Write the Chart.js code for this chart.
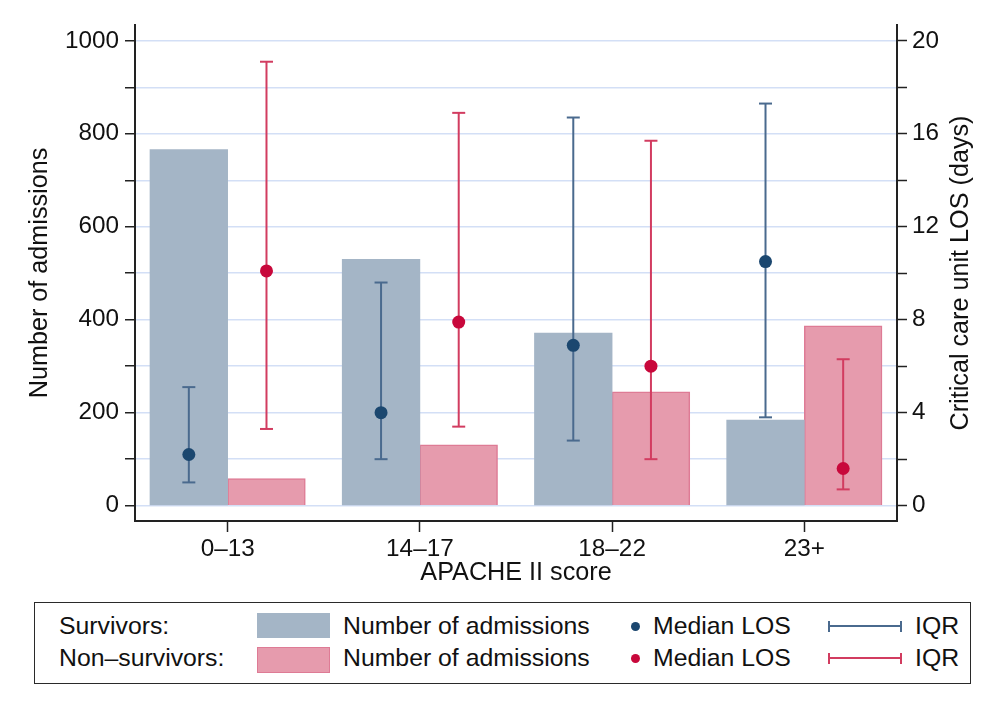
<!DOCTYPE html>
<html>
<head>
<meta charset="utf-8">
<script src="https://cdn.jsdelivr.net/npm/chart.js@4/dist/chart.umd.min.js"></script>
<style>
  html, body { margin: 0; padding: 0; background: #fff; }
  body { width: 1004px; height: 717px; position: relative; overflow: hidden;
         font-family: "Liberation Sans", Arial, Helvetica, sans-serif; color: #111; }
  #wrap { position: absolute; left: 0; top: 0; width: 1004px; height: 600px; }
  .lg-box { position: absolute; left: 34px; top: 602px; width: 935px; height: 80px;
            border: 1.5px solid #2a2a2a; box-sizing: content-box; }
  .lg-t { position: absolute; font-size: 24.8px; line-height: 30px; white-space: nowrap; color: #111; }
  .sw { position: absolute; box-sizing: border-box; }
  .dot { position: absolute; border-radius: 50%; }
  .iqr { position: absolute; height: 2px; }
  .cap { position: absolute; width: 2px; height: 11px; }
</style>
</head>
<body>
<div id="wrap"><canvas id="c" width="1004" height="600"></canvas></div>

<div class="lg-box"></div>
<div class="lg-t" style="left:59px; top:611px;">Survivors:</div>
<div class="lg-t" style="left:59px; top:643px;">Non–survivors:</div>
<div class="sw" style="left:257px; top:613px; width:73px; height:25px; background:#a4b5c6;"></div>
<div class="sw" style="left:257px; top:647px; width:73px; height:26px; background:#e69bad; border:1.5px solid #de7b95;"></div>
<div class="lg-t" style="left:343px; top:611px;">Number of admissions</div>
<div class="lg-t" style="left:343px; top:643px;">Number of admissions</div>
<div class="dot" style="left:630.5px; top:621.5px; width:9px; height:9px; background:#1b476f;"></div>
<div class="dot" style="left:630.5px; top:653.5px; width:9px; height:9px; background:#c8083b;"></div>
<div class="lg-t" style="left:653px; top:611px;">Median LOS</div>
<div class="lg-t" style="left:653px; top:643px;">Median LOS</div>
<div class="iqr" style="left:828px; top:625px; width:74px; background:#4a6a8e;"></div>
<div class="cap" style="left:828px; top:620.5px; background:#4a6a8e;"></div>
<div class="cap" style="left:900px; top:620.5px; background:#4a6a8e;"></div>
<div class="iqr" style="left:828px; top:657px; width:74px; background:#d23c60;"></div>
<div class="cap" style="left:828px; top:652.5px; background:#d23c60;"></div>
<div class="cap" style="left:900px; top:652.5px; background:#d23c60;"></div>
<div class="lg-t" style="left:915px; top:611px;">IQR</div>
<div class="lg-t" style="left:915px; top:643px;">IQR</div>

<script>
// ---- data ----
const categories = ['0–13', '14–17', '18–22', '23+'];
const survAdmissions = [766, 530, 371, 184];
const nonSurvAdmissions = [58, 131, 245, 387];
const survMedianLOS = [2.2, 4.0, 6.9, 10.5];
const survIqrLow = [1.0, 2.0, 2.8, 3.8];
const survIqrHigh = [5.1, 9.6, 16.7, 17.3];
const nonSurvMedianLOS = [10.1, 7.9, 6.0, 1.6];
const nonSurvIqrLow = [3.3, 3.4, 2.0, 0.7];
const nonSurvIqrHigh = [19.1, 16.9, 15.7, 6.3];
const leftTickValues = [0, 100, 200, 300, 400, 500, 600, 700, 800, 900, 1000];
const leftTickLabels = ['0', '', '200', '', '400', '', '600', '', '800', '', '1000'];
const rightTickValues = [0, 2, 4, 6, 8, 10, 12, 14, 16, 18, 20];
const rightTickLabels = ['0', '', '4', '', '8', '', '12', '', '16', '', '20'];

// ---- layout / style ----
const GROUP_SHIFT = 0.202;
const FONT = { family: '"Liberation Sans", Arial, Helvetica, sans-serif', size: 24.3 };
const TFONT = { family: '"Liberation Sans", Arial, Helvetica, sans-serif', size: 25.2 };
const AXIS = '#222';
const GRID = '#d3dff6';

function pointsAt(values, dx) {
  return values.map((v, i) => ({ x: i + dx, y: v }));
}
function iqrSegments(lo, hi, dx) {
  const pts = [];
  lo.forEach((v, i) => {
    pts.push({ x: i + dx, y: lo[i] }, { x: i + dx, y: hi[i] }, { x: i + dx, y: null });
  });
  return pts;
}

const rightTitle = {
  id: 'rightTitle',
  afterDraw(chart) {
    const { ctx, chartArea } = chart;
    ctx.save();
    ctx.translate(961, (chartArea.top + chartArea.bottom) / 2);
    ctx.rotate(-Math.PI / 2);
    ctx.font = `${TFONT.size}px ${TFONT.family}`;
    ctx.fillStyle = '#111';
    ctx.textAlign = 'center';
    ctx.textBaseline = 'middle';
    ctx.fillText('Critical care unit LOS (days)', 0, 0);
    ctx.restore();
  }
};

new Chart(document.getElementById('c'), {
  type: 'bar',
  data: {
    datasets: [
      {
        label: 'Survivors: Number of admissions',
        data: pointsAt(survAdmissions, -GROUP_SHIFT),
        backgroundColor: '#a4b5c6',
        borderWidth: 0,
        grouped: false, barPercentage: 1, categoryPercentage: 1,
        xAxisID: 'x', yAxisID: 'y', order: 3
      },
      {
        label: 'Non-survivors: Number of admissions',
        data: pointsAt(nonSurvAdmissions, GROUP_SHIFT),
        backgroundColor: '#e69bad',
        borderColor: '#de7b95',
        borderWidth: 1.5,
        grouped: false, barPercentage: 1, categoryPercentage: 1,
        xAxisID: 'x', yAxisID: 'y', order: 3
      },
      {
        type: 'line',
        label: 'Survivors: IQR',
        data: iqrSegments(survIqrLow, survIqrHigh, -GROUP_SHIFT),
        borderColor: '#4a6a8e', borderWidth: 2,
        pointStyle: 'line', pointRadius: 6.5, pointBorderWidth: 2,
        pointBorderColor: '#4a6a8e', pointBackgroundColor: '#4a6a8e',
        spanGaps: false, fill: false, tension: 0,
        xAxisID: 'x', yAxisID: 'y2', order: 2
      },
      {
        type: 'line',
        label: 'Non-survivors: IQR',
        data: iqrSegments(nonSurvIqrLow, nonSurvIqrHigh, GROUP_SHIFT),
        borderColor: '#d23c60', borderWidth: 2,
        pointStyle: 'line', pointRadius: 6.5, pointBorderWidth: 2,
        pointBorderColor: '#d23c60', pointBackgroundColor: '#d23c60',
        spanGaps: false, fill: false, tension: 0,
        xAxisID: 'x', yAxisID: 'y2', order: 2
      },
      {
        type: 'line',
        label: 'Survivors: Median LOS',
        data: pointsAt(survMedianLOS, -GROUP_SHIFT),
        showLine: false,
        pointRadius: 6.5, pointBorderWidth: 0,
        pointBackgroundColor: '#1b476f',
        xAxisID: 'x', yAxisID: 'y2', order: 1
      },
      {
        type: 'line',
        label: 'Non-survivors: Median LOS',
        data: pointsAt(nonSurvMedianLOS, GROUP_SHIFT),
        showLine: false,
        pointRadius: 6.5, pointBorderWidth: 0,
        pointBackgroundColor: '#c8083b',
        xAxisID: 'x', yAxisID: 'y2', order: 1
      }
    ]
  },
  options: {
    responsive: false,
    animation: false,
    events: [],
    layout: { padding: { top: 25, left: 0, right: 0, bottom: 0 } },
    plugins: { legend: { display: false }, tooltip: { enabled: false } },
    scales: {
      x: {
        type: 'linear',
        min: -0.482, max: 3.482,
        offset: false,
        afterBuildTicks(s) { s.ticks = categories.map((c, i) => ({ value: i })); },
        grid: { drawOnChartArea: false, drawTicks: true, offset: false,
                tickLength: 11, tickColor: AXIS, tickWidth: 1.5 },
        border: { color: AXIS, width: 2 },
        ticks: { font: FONT, color: '#111', padding: 3, maxRotation: 0,
                 callback: (v) => categories[v] },
        title: { display: true, text: 'APACHE II score', font: TFONT, color: '#111',
                 padding: { top: 0, bottom: 12 } },
        afterFit(s) { s.height = 79; }
      },
      y: {
        type: 'linear', position: 'left',
        min: -33, max: 1034,
        afterBuildTicks(s) { s.ticks = leftTickValues.map(v => ({ value: v })); },
        grid: { color: GRID, lineWidth: 1.5, tickColor: AXIS, tickLength: 10, tickWidth: 1.5 },
        border: { color: AXIS, width: 2 },
        ticks: { font: FONT, color: '#111', padding: 6,
                 callback: (v) => leftTickLabels[leftTickValues.indexOf(v)] },
        title: { display: true, text: 'Number of admissions', font: TFONT, color: '#111',
                 padding: { top: 25, bottom: 0 } },
        afterFit(s) { s.width = 135; }
      },
      y2: {
        type: 'linear', position: 'right',
        min: -0.66, max: 20.68,
        afterBuildTicks(s) { s.ticks = rightTickValues.map(v => ({ value: v })); },
        grid: { drawOnChartArea: false, tickColor: AXIS, tickLength: 10, tickWidth: 1.5 },
        border: { color: AXIS, width: 2 },
        ticks: { font: FONT, color: '#111', padding: 5,
                 callback: (v) => rightTickLabels[rightTickValues.indexOf(v)] },
        title: { display: false },
        afterFit(s) { s.width = 107; }
      }
    }
  },
  plugins: [rightTitle]
});
</script>
</body>
</html>
